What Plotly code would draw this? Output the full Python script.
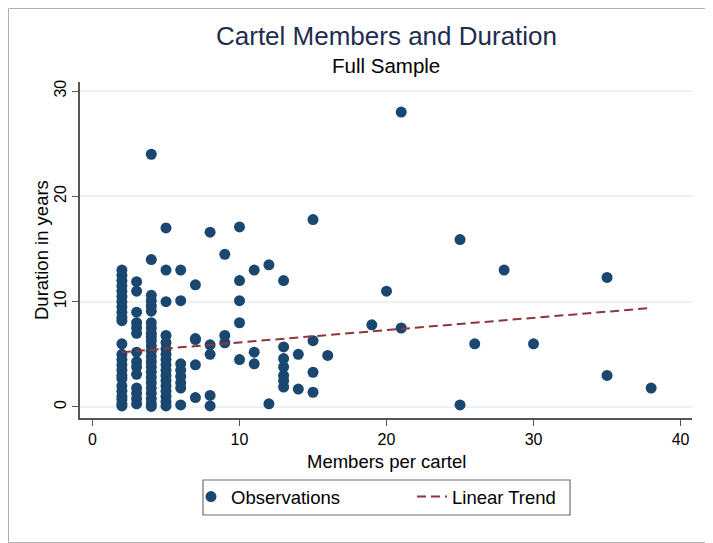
import plotly.graph_objects as go

# Members per cartel (x) and duration in years (y)
members = (
    [2] * 24 + [3] * 14 + [4] * 24 + [5] * 17 + [6] * 8 + [7] * 5 +
    [8] * 5 + [9] * 3 + [10] * 5 + [11] * 3 + [12] * 2 + [13] * 7 +
    [14] * 2 + [15] * 4 + [16] + [19] + [20] + [21] * 2 + [25] * 2 +
    [26] + [28] + [30] + [35] * 2 + [38]
)
duration = (
    # x = 2
    [13.0, 12.5, 12.0, 11.5, 11.0, 10.5, 10.0, 9.5, 9.0, 8.5, 8.2, 6.0,
     5.0, 4.5, 4.0, 3.5, 3.0, 2.7, 2.0, 1.5, 1.0, 0.7, 0.3, 0.1]
    # x = 3
    + [11.9, 11.0, 9.0, 8.0, 7.5, 7.0, 5.2, 4.3, 3.8, 3.1, 1.8, 1.3, 0.8, 0.3]
    # x = 4
    + [24.0, 14.0, 10.6, 10.1, 9.6, 9.1, 8.0, 7.5, 7.0, 6.7, 5.8, 5.3,
       4.8, 4.3, 3.8, 3.3, 2.8, 2.3, 1.8, 1.3, 0.8, 0.3, 0.05, 6.3]
    # x = 5
    + [17.0, 13.0, 10.0, 6.8, 6.1, 5.5, 5.0, 4.5, 4.0, 3.5, 3.0, 2.5,
       2.0, 1.5, 1.0, 0.5, 0.1]
    # x = 6
    + [13.0, 10.1, 4.1, 3.5, 2.9, 2.3, 1.8, 0.2]
    # x = 7
    + [11.6, 6.4, 4.0, 0.9, 6.5]
    # x = 8
    + [16.6, 5.9, 5.0, 1.1, 0.1]
    # x = 9
    + [14.5, 6.8, 6.1]
    # x = 10
    + [17.1, 12.0, 10.1, 8.0, 4.5]
    # x = 11
    + [13.0, 5.2, 4.1]
    # x = 12
    + [13.5, 0.3]
    # x = 13
    + [12.0, 5.7, 4.6, 3.8, 3.0, 2.5, 1.9]
    # x = 14
    + [5.0, 1.7]
    # x = 15
    + [17.8, 6.3, 3.3, 1.4]
    # x = 16, 19, 20
    + [4.9, 7.8, 11.0]
    # x = 21
    + [28.0, 7.5]
    # x = 25
    + [15.9, 0.2]
    # x = 26, 28, 30
    + [6.0, 13.0, 6.0]
    # x = 35
    + [12.3, 3.0]
    # x = 38
    + [1.8]
)

# Linear trend (fitted line)
trend_x = [2, 38]
trend_y = [5.2, 9.4]

x_ticks = [0, 10, 20, 30, 40]
y_ticks = [0, 10, 20, 30]

NAVY = "#1a476f"
MAROON = "#90353b"
AXIS = "#555555"
FONT = "Liberation Sans, Arial, sans-serif"

fig = go.Figure()
fig.add_trace(go.Scatter(
    x=members, y=duration, mode="markers", name="Observations",
    marker=dict(color=NAVY, size=11, line=dict(width=0)),
))
fig.add_trace(go.Scatter(
    x=trend_x, y=trend_y, mode="lines", name="Linear Trend",
    line=dict(color=MAROON, width=2, dash="9px,5px"),
))

# the page body has an 8px margin; the figure is sized to fill the window
OFF = 8
W, H = 713 - OFF, 543 - OFF
L, T, R, B = 80 - OFF, 82 - OFF, 21, 125
pw, ph = W - L - R, H - T - B
PX0, PY1 = 80, 418  # absolute page px of plot-area left and bottom


def px(x):
    return (x - PX0) / pw


def py(y):
    return (PY1 - y) / ph


fig.update_layout(
    width=W, height=H,
    margin=dict(l=L, r=R, t=T, b=B, pad=0),
    paper_bgcolor="white", plot_bgcolor="white",
    font=dict(family=FONT, size=16, color="black"),
    showlegend=True,
    legend=dict(
        orientation="h", x=px(191), xanchor="left", y=py(497),
        yanchor="middle", borderwidth=0, bgcolor="rgba(0,0,0,0)",
        font=dict(size=18.5, family=FONT), entrywidth=176,
    ),
    xaxis=dict(
        range=[-0.85, 40.78], tickvals=x_ticks, showgrid=False, zeroline=False,
        showline=True, linecolor=AXIS, linewidth=1.5,
        ticks="outside", ticklen=6, tickcolor=AXIS, tickwidth=1,
        tickfont=dict(size=16, family=FONT),
    ),
    yaxis=dict(
        range=[-1.045, 30.86], tickvals=y_ticks, showgrid=True,
        gridcolor="#eaf2f3", gridwidth=1.5, zeroline=False,
        showline=True, linecolor=AXIS, linewidth=1.5,
        ticks="outside", ticklen=6, tickcolor=AXIS, tickwidth=1,
        tickangle=-90, tickfont=dict(size=16, family=FONT),
    ),
    annotations=[
        dict(text="Cartel Members and Duration", xref="paper", yref="paper",
             x=0.5, y=py(36), xanchor="center", yanchor="middle",
             showarrow=False, font=dict(size=26, color="#1e2d4f", family=FONT)),
        dict(text="Full Sample", xref="paper", yref="paper",
             x=0.5, y=py(66), xanchor="center", yanchor="middle",
             showarrow=False, font=dict(size=20.5, color="black", family=FONT)),
        dict(text="Members per cartel", xref="paper", yref="paper",
             x=0.5, y=py(461), xanchor="center", yanchor="middle",
             showarrow=False, font=dict(size=18.5, color="black", family=FONT)),
        dict(text="Duration in years", xref="paper", yref="paper",
             x=px(41), y=py(250), xanchor="center",
             yanchor="middle", textangle=-90, showarrow=False,
             font=dict(size=18.5, color="black", family=FONT)),
    ],
    shapes=[
        # legend frame
        dict(type="rect", xref="paper", yref="paper",
             x0=px(203), x1=px(570), y0=py(515), y1=py(480),
             line=dict(color="#6f6f6f", width=1.2), fillcolor="white",
             layer="below"),
        # outer graph frame
        dict(type="rect", xref="paper", yref="paper",
             x0=(-L + 0.5) / pw, x1=1 + (R - 0.5) / pw,
             y0=(-B + 0.5) / ph, y1=1 + (T - 0.5) / ph,
             line=dict(color="#b0b0b0", width=1), fillcolor="rgba(0,0,0,0)",
             layer="below"),
    ],
)

fig.write_html("out.html")
